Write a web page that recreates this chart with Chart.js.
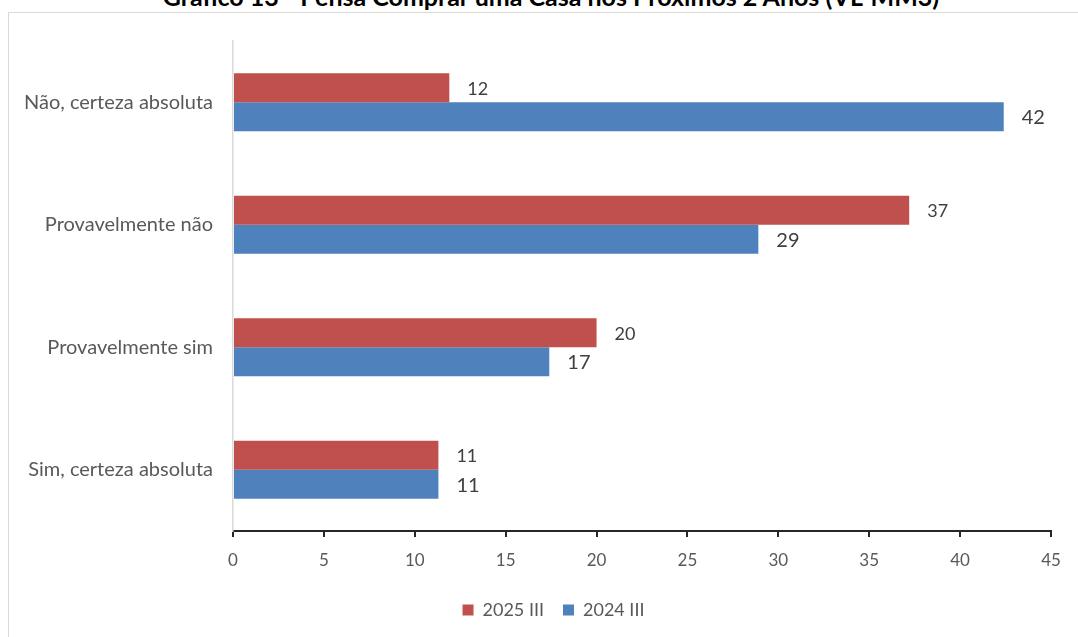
<!DOCTYPE html>
<html>
<head>
<meta charset="utf-8">
<script src="https://cdn.jsdelivr.net/npm/chart.js@4/dist/chart.umd.min.js"></script>
<style>
  html, body { margin: 0; padding: 0; background: #fff; overflow: hidden; width: 1078px; height: 637px; }
  #frame { position: absolute; left: 8px; top: 12px; width: 1200px; height: 800px; border: 1px solid #d9d9d9; }
  #title { position: absolute; left: 12px; width: 1078px; top: -18px; text-align: center; font-family: Lato, "Liberation Sans", sans-serif; font-weight: bold; font-size: 25px; line-height: 28px; color: #000; white-space: nowrap; }
  #c { position: absolute; left: 0; top: 0; }
</style>
</head>
<body>
<div id="frame"></div>
<div id="title">Gráfico 13 - Pensa Comprar uma Casa nos Próximos 2 Anos (VL-MM3)</div>
<canvas id="c" width="1078" height="637"></canvas>
<script>
const categories = ['Não, certeza absoluta', 'Provavelmente não', 'Provavelmente sim', 'Sim, certeza absoluta'];
const seriesNames = ['2025 III', '2024 III'];
const values2025 = [11.9, 37.2, 20.0, 11.3];
const values2024 = [42.4, 28.9, 17.4, 11.3];
const xTickMin = 0, xTickMax = 45, xTickStep = 5;

const FONT = 'Lato, "Liberation Sans", sans-serif';

const barLabels = {
  id: 'barLabels',
  afterDatasetsDraw(chart) {
    const ctx = chart.ctx;
    chart.data.datasets.forEach((ds, di) => {
      const meta = chart.getDatasetMeta(di);
      const size = di === 0 ? 18 : 20;
      ctx.save();
      ctx.font = size + 'px ' + FONT;
      ctx.fillStyle = '#404040';
      ctx.textAlign = 'left';
      ctx.textBaseline = 'middle';
      meta.data.forEach((el, i) => {
        ctx.fillText(String(Math.round(ds.data[i])), el.x + 18, el.y + 1);
      });
      ctx.restore();
    });
  }
};

const legendShift = {
  id: 'legendShift',
  afterLayout(chart) {
    const lg = chart.legend;
    if (!lg) return;
    lg.left += 28;
    lg.right += 28;
    if (lg.adjustHitBoxes) lg.adjustHitBoxes();
  }
};

new Chart(document.getElementById('c'), {
  type: 'bar',
  data: {
    labels: categories,
    datasets: [
      { label: seriesNames[0], data: values2025, backgroundColor: '#C0504D', borderWidth: 0 },
      { label: seriesNames[1], data: values2024, backgroundColor: '#4F81BD', borderWidth: 0 }
    ]
  },
  options: {
    indexAxis: 'y',
    responsive: false,
    animation: false,
    devicePixelRatio: 1,
    layout: { padding: { top: 41, right: 27, left: 0, bottom: 8 } },
    datasets: { bar: { barPercentage: 1, categoryPercentage: 0.474 } },
    scales: {
      x: {
        min: xTickMin, max: xTickMax,
        ticks: { stepSize: xTickStep, color: '#595959', font: { family: FONT, size: 17 }, padding: 13 },
        grid: { drawOnChartArea: false, drawTicks: true, tickLength: 6, color: '#262626', lineWidth: 2 },
        border: { color: '#262626', width: 2 },
        afterFit(scale) { scale.height = 51; }
      },
      y: {
        ticks: { color: '#595959', font: { family: FONT, size: 20 }, padding: 20 },
        grid: { display: false, drawTicks: false },
        border: { color: '#d9d9d9', width: 1.5 },
        afterFit(scale) { scale.width = 233; }
      }
    },
    plugins: {
      legend: {
        position: 'bottom',
        labels: { color: '#595959', font: { family: FONT, size: 18 }, boxWidth: 11, boxHeight: 11, padding: 19 }
      },
      tooltip: { enabled: false },
      title: { display: false }
    }
  },
  plugins: [barLabels, legendShift]
});
</script>
</body>
</html>
